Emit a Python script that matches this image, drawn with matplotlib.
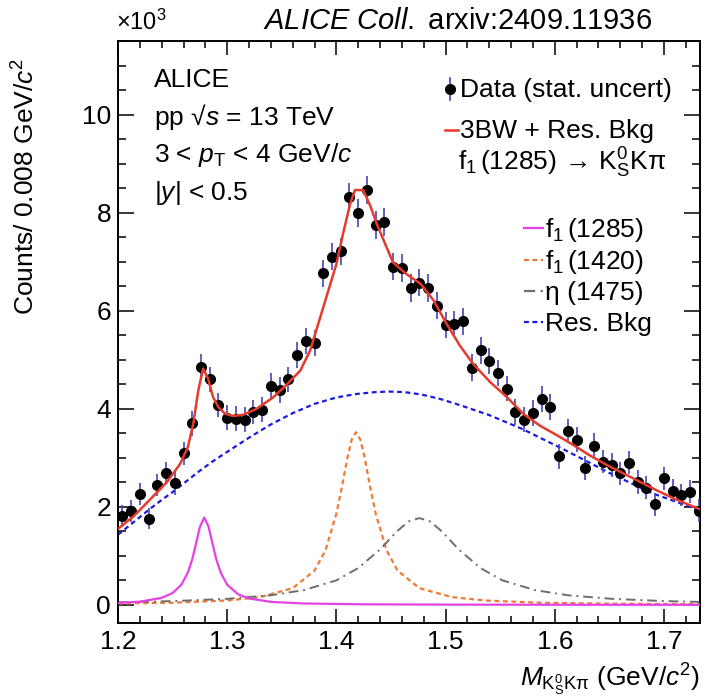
import numpy as np
import matplotlib
matplotlib.use("Agg")
import matplotlib.pyplot as plt
from matplotlib.lines import Line2D

plt.rcParams["font.family"] = ["Liberation Sans", "DejaVu Sans"]
plt.rcParams["mathtext.fontset"] = "custom"
plt.rcParams["mathtext.rm"] = "Liberation Sans"
plt.rcParams["mathtext.it"] = "Liberation Sans:italic"
plt.rcParams["mathtext.bf"] = "Liberation Sans:bold"
plt.rcParams["mathtext.sf"] = "Liberation Sans"

# invariant mass bin centres (GeV/c^2), bin width 0.008
mass = [1.204, 1.212, 1.220, 1.228, 1.236, 1.244, 1.252, 1.260, 1.268, 1.276,
        1.284, 1.292, 1.300, 1.308, 1.316, 1.324, 1.332, 1.340, 1.348, 1.356,
        1.364, 1.372, 1.380, 1.388, 1.396, 1.404, 1.412, 1.420, 1.428, 1.436,
        1.444, 1.452, 1.460, 1.468, 1.476, 1.484, 1.492, 1.500, 1.508, 1.516,
        1.524, 1.532, 1.540, 1.548, 1.556, 1.564, 1.572, 1.580, 1.588, 1.596,
        1.604, 1.612, 1.620, 1.628, 1.636, 1.644, 1.652, 1.660, 1.668, 1.676,
        1.684, 1.692, 1.700, 1.708, 1.716, 1.724, 1.732]

# counts (x10^3)
counts = [1.81, 1.92, 2.26, 1.76, 2.44, 2.69, 2.48, 3.09, 3.70, 4.85,
          4.60, 4.08, 3.82, 3.80, 3.78, 3.93, 3.98, 4.47, 4.38, 4.60,
          5.10, 5.38, 5.34, 6.76, 7.10, 7.21, 8.32, 7.99, 8.46, 7.75,
          7.81, 6.90, 6.87, 6.46, 6.57, 6.46, 6.10, 5.71, 5.73, 5.78,
          4.84, 5.19, 4.97, 4.73, 4.41, 3.93, 3.78, 3.91, 4.20, 4.04,
          3.03, 3.55, 3.37, 2.79, 3.25, 2.92, 2.85, 2.68, 2.90, 2.51,
          2.39, 2.05, 2.58, 2.33, 2.24, 2.31, 1.92]

stat_err = [0.22, 0.22, 0.23, 0.22, 0.23, 0.23, 0.23, 0.24, 0.25, 0.26,
            0.26, 0.25, 0.25, 0.25, 0.25, 0.25, 0.25, 0.26, 0.26, 0.26,
            0.27, 0.27, 0.27, 0.28, 0.28, 0.28, 0.29, 0.29, 0.29, 0.29,
            0.29, 0.28, 0.28, 0.28, 0.28, 0.28, 0.28, 0.27, 0.27, 0.27,
            0.27, 0.27, 0.27, 0.26, 0.26, 0.26, 0.26, 0.26, 0.26, 0.26,
            0.25, 0.25, 0.25, 0.25, 0.25, 0.24, 0.24, 0.24, 0.24, 0.24,
            0.24, 0.23, 0.23, 0.23, 0.23, 0.23, 0.23]

# total fit: 3BW + residual background
fit_x = [1.200, 1.214, 1.229, 1.245, 1.257, 1.264, 1.269, 1.2735, 1.278, 1.2826,
         1.287, 1.292, 1.298, 1.3056, 1.315, 1.327, 1.342, 1.354, 1.367, 1.376,
         1.388, 1.400, 1.406, 1.4125, 1.417, 1.4246, 1.431, 1.437, 1.446, 1.452,
         1.464, 1.477, 1.489, 1.501, 1.513, 1.525, 1.541, 1.556, 1.571, 1.586,
         1.602, 1.617, 1.632, 1.648, 1.663, 1.678, 1.693, 1.709, 1.724, 1.733]
fit_y = [1.55, 1.80, 2.14, 2.51, 2.88, 3.22, 3.70, 4.37, 4.82, 4.61,
         4.24, 4.03, 3.90, 3.85, 3.88, 4.00, 4.23, 4.48, 4.78, 5.19,
         6.07, 6.95, 7.56, 8.17, 8.46, 8.46, 8.14, 7.77, 7.29, 6.98,
         6.75, 6.55, 6.21, 5.73, 5.29, 4.92, 4.54, 4.24, 3.90, 3.66,
         3.46, 3.26, 3.05, 2.85, 2.68, 2.51, 2.34, 2.17, 2.03, 1.95]

# f1(1285)
f1285_x = [1.200, 1.220, 1.240, 1.250, 1.258, 1.264, 1.268, 1.272, 1.275, 1.279,
           1.283, 1.286, 1.290, 1.294, 1.300, 1.310, 1.320, 1.340, 1.370, 1.420,
           1.500, 1.600, 1.733]
f1285_y = [0.04, 0.065, 0.143, 0.242, 0.41, 0.66, 0.93, 1.30, 1.59, 1.78,
           1.59, 1.30, 0.93, 0.66, 0.41, 0.215, 0.13, 0.061, 0.028, 0.012,
           0.005, 0.002, 0.001]

# f1(1420)
f1420_x = [1.200, 1.250, 1.300, 1.330, 1.360, 1.380, 1.390, 1.400, 1.405, 1.410,
           1.414, 1.418, 1.422, 1.426, 1.431, 1.436, 1.446, 1.456, 1.476, 1.506,
           1.536, 1.586, 1.650, 1.733]
f1420_y = [0.027, 0.044, 0.089, 0.157, 0.34, 0.70, 1.11, 1.86, 2.40, 2.99,
           3.37, 3.52, 3.37, 2.99, 2.40, 1.86, 1.11, 0.70, 0.34, 0.157,
           0.089, 0.044, 0.024, 0.013]

# eta(1475)
eta_x = [1.200, 1.250, 1.300, 1.340, 1.370, 1.400, 1.420, 1.440, 1.455, 1.466,
         1.476, 1.486, 1.497, 1.512, 1.532, 1.552, 1.582, 1.612, 1.652, 1.702,
         1.733]
eta_y = [0.052, 0.076, 0.123, 0.196, 0.30, 0.50, 0.75, 1.13, 1.49, 1.70,
         1.77, 1.70, 1.49, 1.13, 0.75, 0.50, 0.30, 0.196, 0.123, 0.076,
         0.060]

# residual background
bkg_x = [1.200, 1.210, 1.220, 1.230, 1.240, 1.250, 1.262, 1.274, 1.287, 1.302,
         1.320, 1.340, 1.360, 1.380, 1.400, 1.418, 1.436, 1.448, 1.462, 1.478,
         1.495, 1.515, 1.540, 1.570, 1.610, 1.650, 1.690, 1.733]
bkg_y = [1.43, 1.61, 1.79, 1.97, 2.14, 2.30, 2.51, 2.72, 2.93, 3.15,
         3.41, 3.68, 3.91, 4.10, 4.23, 4.30, 4.34, 4.35, 4.34, 4.29,
         4.20, 4.06, 3.87, 3.59, 3.15, 2.69, 2.27, 1.93]

W, H = 707, 697


def fx(px):
    return px / W


def fy(py):
    return 1 - py / H


fig = plt.figure(figsize=(W / 100, H / 100), dpi=100)
ax = fig.add_axes([fx(118), fy(623), fx(700) - fx(118), fy(41) - fy(623)])

ax.plot(bkg_x, bkg_y, color="#1a1ae0", lw=1.6, dashes=(2.2, 1.6), zorder=2)
ax.plot(f1420_x, f1420_y, color="#f07a35", lw=1.6, dashes=(2.2, 1.6), zorder=2)
ax.plot(eta_x, eta_y, color="#6e6e6e", lw=1.4, dashes=(5, 2.5, 1, 2.5), zorder=2)
ax.plot(f1285_x, f1285_y, color="#e542e5", lw=1.6, zorder=3)
ax.errorbar(mass, counts, yerr=stat_err, fmt="o", color="black", ms=7,
            ecolor="#4646b4", elinewidth=1.2, capsize=0, zorder=4)
ax.plot(fit_x, fit_y, color="#e63a2c", lw=1.8, zorder=5)

ax.set_xlim(1.2, 1.733)
ax.set_ylim(-0.37, 11.5)
ax.set_xticks([1.2, 1.3, 1.4, 1.5, 1.6, 1.7])
ax.set_xticklabels(["1.2", "1.3", "1.4", "1.5", "1.6", "1.7"])
ax.set_xticks(np.arange(1.2, 1.7335, 0.02), minor=True)
ax.set_yticks([0, 2, 4, 6, 8, 10])
ax.set_yticks(np.arange(0, 11.6, 0.5), minor=True)
ax.tick_params(which="both", direction="in", top=True, right=True,
               labelsize=19, width=1.1)
ax.tick_params(which="major", axis="y", length=11.5, pad=5)
ax.tick_params(which="minor", axis="y", length=5.5)
ax.tick_params(which="major", axis="x", length=10, pad=5)
ax.tick_params(which="minor", axis="x", length=5)
for sp in ax.spines.values():
    sp.set_linewidth(1.4)

# axis titles
fig.text(fx(700), fy(687), r"$M_{\mathrm{K^{0}_{S}K\pi}}$ (GeV/$c^{2}$)",
         ha="right", va="baseline", fontsize=19)
fig.text(fx(26), fy(58), r"Counts/ 0.008 GeV/$c^{2}$", rotation=90,
         ha="center", va="top", fontsize=19)
fig.text(fx(116), fy(30), r"$\times$10$^{3}$", ha="left", va="baseline",
         fontsize=17)
fig.text(fx(263), fy(29), r"$\it{ALICE\ Coll.}$ arxiv:2409.11936",
         ha="left", va="baseline", fontsize=21)

# system info
info = ["ALICE", r"pp √$s$ = 13 TeV", r"3 < $p_{\mathrm{T}}$ < 4 GeV/$c$",
        r"|$y$| < 0.5"]
for i, line in enumerate(info):
    fig.text(fx(154), fy(87 + 37.7 * i), line, ha="left", va="baseline",
             fontsize=19)

# legend, upper block
fig.add_artist(Line2D([fx(450), fx(450)], [fy(78), fy(100)], color="#4646b4",
                      lw=1.2, transform=fig.transFigure))
fig.add_artist(Line2D([fx(450)], [fy(89)], marker="o", ms=7, color="black",
                      transform=fig.transFigure))
fig.text(fx(460), fy(97), "Data (stat. uncert)", ha="left", va="baseline",
         fontsize=19)
fig.add_artist(Line2D([fx(445), fx(458)], [fy(130), fy(130)], color="#e63a2c",
                      lw=1.8, transform=fig.transFigure))
fig.text(fx(460), fy(138), "3BW + Res. Bkg", ha="left", va="baseline",
         fontsize=19)
fig.text(fx(458), fy(171),
         r"f$_{1}\,$(1285)$\,\rightarrow\,$K$^{0}_{\mathrm{S}}$Kπ",
         ha="left", va="baseline", fontsize=19)

# legend, components
comp = [(r"f$_{1}\,$(1285)", "#e542e5", None),
        (r"f$_{1}\,$(1420)", "#f07a35", (2.2, 1.6)),
        ("η (1475)", "#6e6e6e", (5, 2.5, 1, 2.5)),
        ("Res. Bkg", "#1a1ae0", (2.2, 1.6))]
for i, (lab, col, ds) in enumerate(comp):
    yb = 237 + 31.5 * i
    ln = Line2D([fx(524), fx(543)], [fy(yb - 9), fy(yb - 9)], color=col,
                lw=1.6, transform=fig.transFigure)
    if ds is not None:
        ln.set_dashes(ds)
    fig.add_artist(ln)
    fig.text(fx(545), fy(yb), lab, ha="left", va="baseline", fontsize=19)

fig.savefig("out.png", dpi=100)
